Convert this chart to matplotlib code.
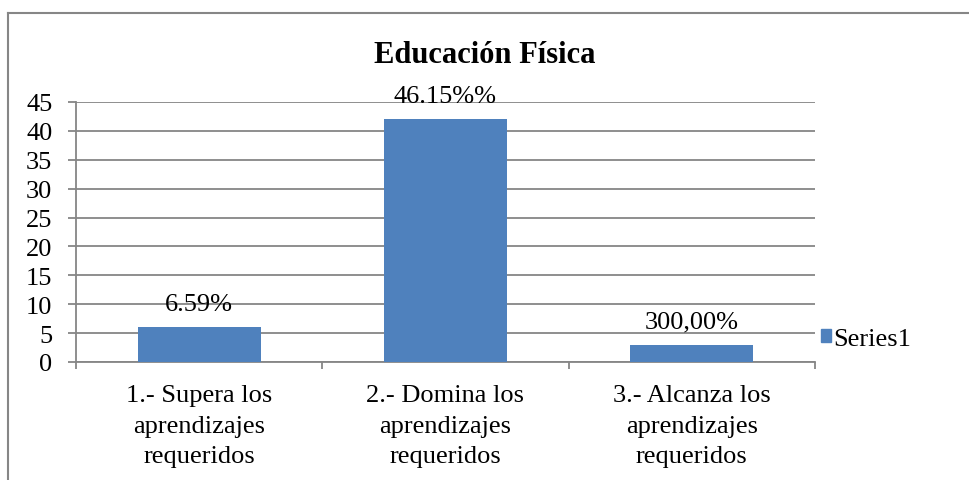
import matplotlib
matplotlib.use('Agg')
import matplotlib.pyplot as plt
from matplotlib.patches import Patch
from matplotlib.lines import Line2D

plt.rcParams['font.family'] = ['Liberation Serif', 'DejaVu Serif']

# Data
categories = ['1.- Supera los\naprendizajes\nrequeridos',
              '2.- Domina los\naprendizajes\nrequeridos',
              '3.- Alcanza los\naprendizajes\nrequeridos']
values = [6, 42, 3]
bar_labels = ['6.59%', '46.15%%', '300,00%']
y_ticks = [0, 5, 10, 15, 20, 25, 30, 35, 40, 45]

bar_color = '#4F81BD'
grid_color = '#868686'

fig = plt.figure(figsize=(9.69, 4.81), dpi=100)
ax = fig.add_axes([76 / 969, 118 / 481, (815 - 76) / 969, (378 - 118) / 481])

x = list(range(len(categories)))
bars = ax.bar(x, values, width=0.5, color=bar_color, zorder=3)

ax.set_xlim(-0.5, len(categories) - 0.5)
ax.set_ylim(0, 45)
ax.set_yticks(y_ticks)
ax.yaxis.grid(True, color=grid_color, linewidth=1.3, zorder=0)
ax.tick_params(axis='y', direction='out', length=6, width=1.3, color=grid_color,
               labelsize=19, pad=11)

# category boundaries as major ticks, labels as minor ticks
ax.set_xticks([i - 0.5 for i in range(len(categories) + 1)])
ax.set_xticklabels([])
ax.set_xticks(x, minor=True)
ax.set_xticklabels(categories, minor=True, fontsize=19, linespacing=1.5)
ax.tick_params(axis='x', which='major', direction='out', length=5, width=1.3, color=grid_color)
ax.tick_params(axis='x', which='minor', length=0, pad=16)

for side in ['top', 'right']:
    ax.spines[side].set_visible(False)
for side in ['left', 'bottom']:
    ax.spines[side].set_color(grid_color)
    ax.spines[side].set_linewidth(1.3)

# value labels above the bars
for b, lab in zip(bars, bar_labels):
    ax.annotate(lab, (b.get_x() + b.get_width() / 2, b.get_height()),
                xytext=(0, 17), textcoords='offset pixels',
                ha='center', va='baseline', fontsize=19, zorder=4)

fig.text(0.5, (481 - 63) / 481, 'Educación Física', ha='center', va='baseline',
         fontsize=22, fontweight='bold')

fig.legend(handles=[Patch(color=bar_color, label='Series1')],
           loc='center left', bbox_to_anchor=(821 / 969, (481 - 340) / 481),
           frameon=False, fontsize=19, handlelength=0.38, handleheight=0.38,
           handletextpad=0.1, borderpad=0, borderaxespad=0)

# chart frame (left and top edges visible in the reference)
fig.add_artist(Line2D([8 / 969, 8 / 969], [0, (481 - 14) / 481], transform=fig.transFigure,
                      color=grid_color, linewidth=1.5))
fig.add_artist(Line2D([8 / 969, 1], [(481 - 14) / 481, (481 - 14) / 481], transform=fig.transFigure,
                      color=grid_color, linewidth=1.5))

fig.savefig('out.png', dpi=100)
